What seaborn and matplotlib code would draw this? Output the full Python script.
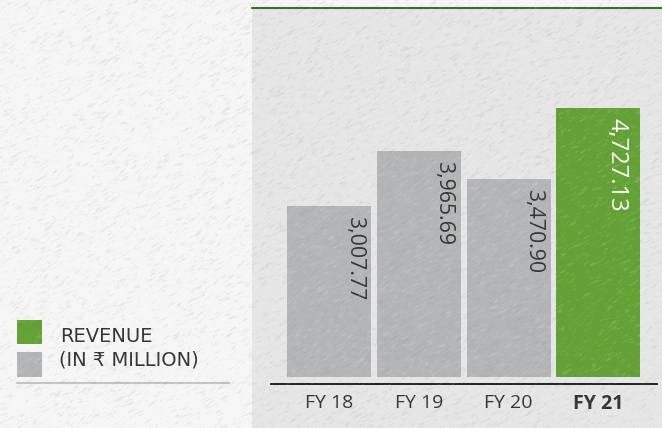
import numpy as np
import pandas as pd
import seaborn as sns
import matplotlib
matplotlib.use("Agg")
import matplotlib.pyplot as plt
from matplotlib.patches import Rectangle
from matplotlib.lines import Line2D

# Revenue by fiscal year (in ₹ million)
years = ["FY 18", "FY 19", "FY 20", "FY 21"]
revenue = [3007.77, 3965.69, 3470.90, 4727.13]
value_labels = ["3,007.77", "3,965.69", "3,470.90", "4,727.13"]

GRAY = "#b4b5b7"
GREEN = "#64a134"
PAPER = "#f6f6f6"
PANEL = "#e6e6e6"
TEXT = "#333333"

sns.set_theme(style="white")
plt.rcParams["font.family"] = ["Open Sans", "DejaVu Sans"]

W, H = 662, 428
fig = plt.figure(figsize=(W / 100, H / 100), dpi=100)
fig.patch.set_facecolor(PAPER)

def fx(px):
    return px / W

def fy(py):
    return 1 - py / H

# Shaded chart panel with a green rule along its top
fig.add_artist(Rectangle((fx(252), 0), 1 - fx(252), fy(8), transform=fig.transFigure,
                         facecolor=PANEL, edgecolor="none", zorder=0))
fig.add_artist(Line2D([fx(252), 1], [fy(8), fy(8)], transform=fig.transFigure,
                      color="#3f6b2c", lw=1.5, zorder=1))

ax = fig.add_axes([fx(271), fy(384), fx(657) - fx(271), fy(8) - fy(384)])
ax.set_facecolor("none")

df = pd.DataFrame({"year": years, "revenue": revenue})
palette = [GRAY, GRAY, GRAY, GREEN]
sns.barplot(data=df, x="year", y="revenue", hue="year", palette=palette,
            width=0.936, saturation=1, legend=False, ax=ax, zorder=2,
            linewidth=0, edgecolor="none")

# scale: bars sit 7 px above the axis line, tallest bar is 269 px
px_per_unit = 269 / max(revenue)
ax.set_ylim(-7 / px_per_unit, (377 - 8) / px_per_unit)
ax.set_xlim(-0.647, 3.652)

for spine in ["top", "right", "left"]:
    ax.spines[spine].set_visible(False)
ax.spines["bottom"].set_color("#111111")
ax.spines["bottom"].set_linewidth(1.3)
ax.set_yticks([])
ax.set_xlabel("")
ax.set_ylabel("")
ax.tick_params(axis="x", length=0, pad=7, labelsize=14, labelcolor=TEXT)
for lbl in ax.get_xticklabels():
    if lbl.get_text() == years[-1]:
        lbl.set_fontweight("bold")

# rotated value labels inside each bar, near its right edge
for i, (v, lab) in enumerate(zip(revenue, value_labels)):
    last = i == len(revenue) - 1
    ax.annotate(lab, xy=(i, v), xytext=(18.5 if last else 25, -10),
                textcoords="offset pixels", rotation=-90, ha="center", va="top",
                fontsize=17 if last else 15.3, fontweight="medium" if last else "normal",
                color="white" if last else TEXT, zorder=3)

# legend block on the left
fig.add_artist(Rectangle((fx(17), fy(344)), fx(25), fy(320) - fy(344),
                         transform=fig.transFigure, facecolor=GREEN, edgecolor="none"))
fig.add_artist(Rectangle((fx(17), fy(377)), fx(25), fy(352) - fy(377),
                         transform=fig.transFigure, facecolor=GRAY, edgecolor="none"))
legend_font = ["DejaVu Sans"]
fig.text(fx(60), fy(337), "REVENUE", fontsize=14, color=TEXT, va="center", ha="left",
         family=legend_font)
fig.text(fx(59), fy(360), "(IN ₹ MILLION)", fontsize=14, color=TEXT, va="center", ha="left",
         family=legend_font)
fig.add_artist(Line2D([fx(17), fx(229)], [fy(383), fy(383)], transform=fig.transFigure,
                      color="#c4c4c4", lw=1.5))

# faint paper grain over the whole sheet: short, slightly tilted blotches
rng = np.random.default_rng(7)
grain = rng.normal(0, 1, (H + 8, W + 8))
acc = np.zeros_like(grain)
for k in range(5):
    acc += np.roll(np.roll(grain, k, axis=1), -(k // 2), axis=0)
grain = (acc + np.roll(acc, 1, axis=0)) / 10
grain = grain[4:H + 4, 4:W + 4]
grain = grain / grain.std()
overlay = np.zeros((H, W, 4))
overlay[..., :3] = np.where(grain[..., None] > 0, 1.0, 0.55)
overlay[..., 3] = np.clip((np.abs(grain) - 0.4) * 0.07, 0, 0.15)
over_ax = fig.add_axes([0, 0, 1, 1], zorder=10)
over_ax.imshow(overlay, aspect="auto", interpolation="bilinear")
over_ax.axis("off")

fig.savefig("out.png", dpi=100, facecolor=fig.get_facecolor())
